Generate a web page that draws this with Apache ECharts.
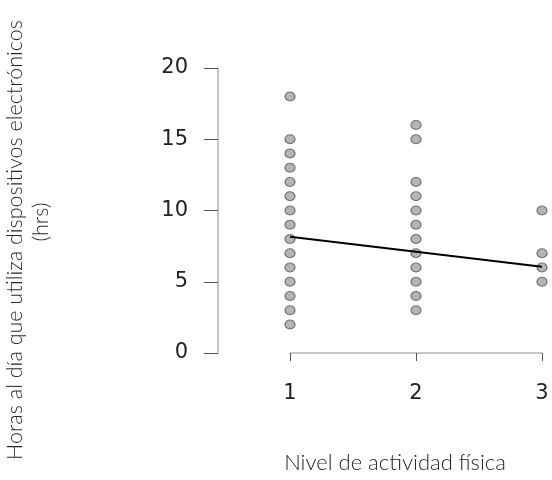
<!DOCTYPE html>
<html><head><meta charset="utf-8">
<script src="https://cdn.jsdelivr.net/npm/echarts@6/dist/echarts.min.js"></script>
<style>html,body{margin:0;padding:0;background:#fff}#c{width:552px;height:480px}</style>
</head><body><div id="c"></div>
<script>
const xTicks = [1, 2, 3];
const yTicks = [0, 5, 10, 15, 20];
const group1 = [18, 15, 14, 13, 12, 11, 10, 9, 8, 7, 6, 5, 4, 3, 2];
const group2 = [16, 15, 12, 11, 10, 9, 8, 7, 6, 5, 4, 3];
const group3 = [10, 7, 6, 5];
const fitX = [1, 3];
const fitY = [8.15, 6.05];
const yTitle1 = 'Horas al día que utiliza dispositivos electrónicos';
const yTitle2 = '(hrs)';
const xTitle = 'Nivel de actividad física';

const groups = [group1, group2, group3];
const points = [];
groups.forEach((g, i) => g.forEach(v => points.push([xTicks[i], v])));

const titleFont = { fontFamily: 'Lato', fontWeight: 300, fontSize: 21.5, fill: '#262626', align: 'center', verticalAlign: 'middle' };

const chart = echarts.init(document.getElementById('c'));
chart.setOption({
  animation: false,
  grid: { left: 290, right: 10, top: 68, bottom: 127 },
  xAxis: {
    type: 'value', min: xTicks[0], max: xTicks[xTicks.length - 1], interval: 1, offset: 14,
    axisLine: { lineStyle: { color: '#b5b5b5', width: 1.5 } },
    axisTick: { show: true, length: 8, lineStyle: { color: '#555' } },
    splitLine: { show: false },
    axisLabel: { margin: 16, fontFamily: 'DejaVu Sans', fontSize: 21, color: '#222' }
  },
  yAxis: {
    type: 'value', min: yTicks[0], max: yTicks[yTicks.length - 1], interval: 5, offset: 72,
    axisLine: { show: true, lineStyle: { color: '#b5b5b5', width: 1.5 } },
    axisTick: { show: true, length: 14, lineStyle: { color: '#555' } },
    splitLine: { show: false },
    axisLabel: { margin: 30, fontFamily: 'DejaVu Sans', fontSize: 21, color: '#222' }
  },
  series: [
    {
      type: 'scatter', data: points, symbol: 'circle', symbolSize: [10, 9], clip: false,
      itemStyle: { color: '#a3a3a3', borderColor: '#5a5a5a', borderWidth: 1.2 }, z: 2
    },
    {
      type: 'line', data: fitX.map((x, i) => [x, fitY[i]]), symbol: 'none',
      lineStyle: { color: '#000', width: 2 }, z: 3
    }
  ],
  graphic: [
    { type: 'text', x: 15, y: 240, rotation: Math.PI / 2,
      style: Object.assign({ text: yTitle1 }, titleFont) },
    { type: 'text', x: 41, y: 222, rotation: Math.PI / 2,
      style: Object.assign({ text: yTitle2 }, titleFont) },
    { type: 'text', x: 395, y: 463,
      style: Object.assign({ text: xTitle }, titleFont, { fontSize: 22 }) }
  ]
});
</script></body></html>
